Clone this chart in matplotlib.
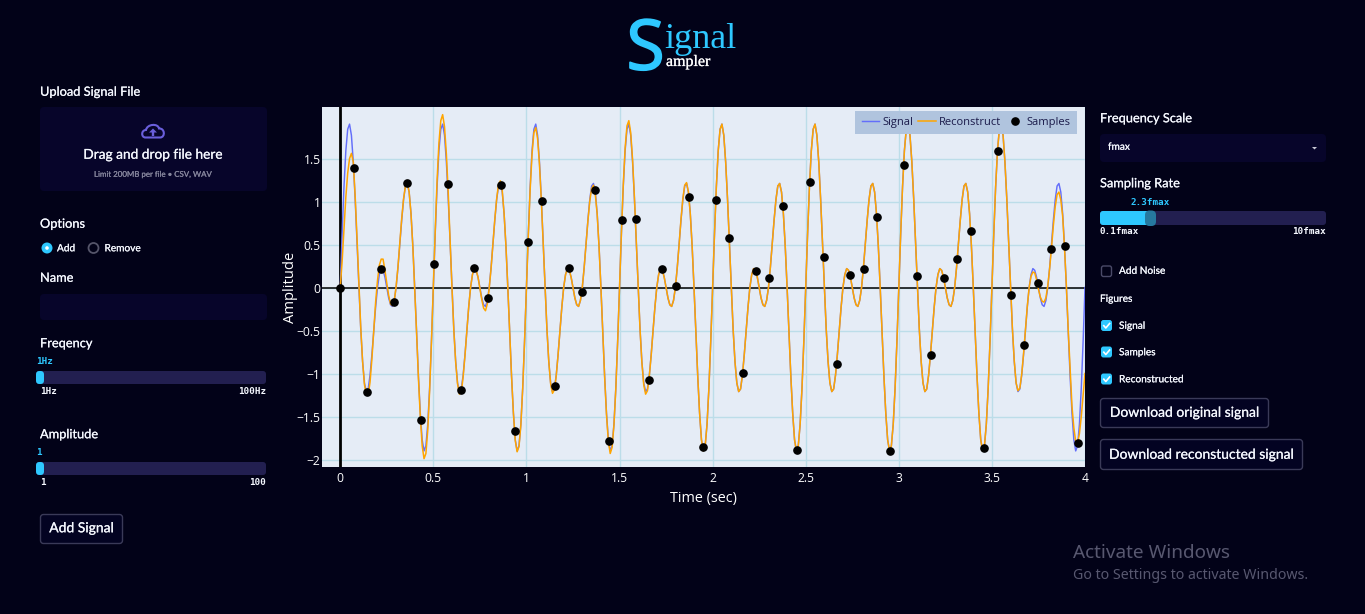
import numpy as np
import matplotlib
matplotlib.use("Agg")
import matplotlib.pyplot as plt
import matplotlib.patheffects as pe
from matplotlib.patches import FancyBboxPatch, Circle, Polygon, PathPatch
from matplotlib.path import Path
from matplotlib.lines import Line2D
from matplotlib.transforms import IdentityTransform

# ---------- data ----------
signal_values = [
 0,.62,1.17,1.59,1.84,1.90,1.77,1.46,1.03,.52,0,-.48,-.86,-1.11,-1.21,-1.18,-1.02,-.78,-.50,-.23,0,.15,.22,.20,.12,0,-.12,-.20,-.22,-.15,0,.23,.50,.78,1.02,1.18,1.21,1.11,.86,.48,0,-.52,-1.03,-1.46,-1.77,-1.90,-1.84,-1.59,-1.17,-.62,
 0,.62,1.17,1.59,1.84,1.90,1.77,1.46,1.03,.52,0,-.48,-.86,-1.11,-1.21,-1.18,-1.02,-.78,-.50,-.23,0,.15,.22,.20,.12,0,-.12,-.20,-.22,-.15,0,.23,.50,.78,1.02,1.18,1.21,1.11,.86,.48,0,-.52,-1.03,-1.46,-1.77,-1.90,-1.84,-1.59,-1.17,-.62,
 0,.62,1.17,1.59,1.84,1.90,1.77,1.46,1.03,.52,0,-.48,-.86,-1.11,-1.21,-1.18,-1.02,-.78,-.50,-.23,0,.15,.22,.20,.12,0,-.12,-.20,-.22,-.15,0,.23,.50,.78,1.02,1.18,1.21,1.11,.86,.48,0,-.52,-1.03,-1.46,-1.77,-1.90,-1.84,-1.59,-1.17,-.62,
 0,.62,1.17,1.59,1.84,1.90,1.77,1.46,1.03,.52,0,-.48,-.86,-1.11,-1.21,-1.18,-1.02,-.78,-.50,-.23,0,.15,.22,.20,.12,0,-.12,-.20,-.22,-.15,0,.23,.50,.78,1.02,1.18,1.21,1.11,.86,.48,0,-.52,-1.03,-1.46,-1.77,-1.90,-1.84,-1.59,-1.17,-.62,
 0,.62,1.17,1.59,1.84,1.90,1.77,1.46,1.03,.52,0,-.48,-.86,-1.11,-1.21,-1.18,-1.02,-.78,-.50,-.23,0,.15,.22,.20,.12,0,-.12,-.20,-.22,-.15,0,.23,.50,.78,1.02,1.18,1.21,1.11,.86,.48,0,-.52,-1.03,-1.46,-1.77,-1.90,-1.84,-1.59,-1.17,-.62,
 0,.62,1.17,1.59,1.84,1.90,1.77,1.46,1.03,.52,0,-.48,-.86,-1.11,-1.21,-1.18,-1.02,-.78,-.50,-.23,0,.15,.22,.20,.12,0,-.12,-.20,-.22,-.15,0,.23,.50,.78,1.02,1.18,1.21,1.11,.86,.48,0,-.52,-1.03,-1.46,-1.77,-1.90,-1.84,-1.59,-1.17,-.62,
 0,.62,1.17,1.59,1.84,1.90,1.77,1.46,1.03,.52,0,-.48,-.86,-1.11,-1.21,-1.18,-1.02,-.78,-.50,-.23,0,.15,.22,.20,.12,0,-.12,-.20,-.22,-.15,0,.23,.50,.78,1.02,1.18,1.21,1.11,.86,.48,0,-.52,-1.03,-1.46,-1.77,-1.90,-1.84,-1.59,-1.17,-.62,
 0,.62,1.17,1.59,1.84,1.90,1.77,1.46,1.03,.52,0,-.48,-.86,-1.11,-1.21,-1.18,-1.02,-.78,-.50,-.23,0,.15,.22,.20,.12,0,-.12,-.20,-.22,-.15,0,.23,.50,.78,1.02,1.18,1.21,1.11,.86,.48,0,-.52,-1.03,-1.46,-1.77,-1.90,-1.84,-1.59,-1.17,-.62,
 0]

reconstruct_values = [
 0,.30,.68,1.05,1.33,1.50,1.56,1.46,1.07,.58,.05,-.46,-.86,-1.13,-1.24,-1.25,-1.10,-.83,-.50,-.17,.08,.26,.33,.33,.20,.05,-.09,-.19,-.21,-.16,.01,.24,.52,.80,1.03,1.18,1.22,1.11,.86,.47,-.02,-.53,-1.06,-1.50,-1.84,-1.99,-1.93,-1.66,-1.20,-.62,
 .03,.65,1.24,1.68,1.94,2.01,1.87,1.55,1.10,.55,0,-.50,-.87,-1.12,-1.24,-1.22,-1.04,-.79,-.50,-.22,0,.15,.22,.20,.12,-.01,-.14,-.24,-.27,-.19,-.01,.22,.50,.79,1.03,1.20,1.24,1.13,.86,.48,0,-.52,-1.03,-1.46,-1.78,-1.91,-1.85,-1.60,-1.17,-.62,
 0,.60,1.14,1.55,1.80,1.86,1.73,1.43,1.01,.51,0,-.48,-.86,-1.12,-1.23,-1.19,-1.03,-.78,-.50,-.23,0,.15,.22,.20,.12,0,-.12,-.20,-.22,-.15,0,.23,.50,.77,1.00,1.15,1.19,1.08,.85,.47,0,-.52,-1.04,-1.48,-1.79,-1.93,-1.86,-1.60,-1.18,-.63,
 0,.63,1.19,1.62,1.88,1.94,1.80,1.49,1.05,.53,0,-.48,-.87,-1.13,-1.24,-1.20,-1.03,-.79,-.50,-.23,0,.15,.22,.20,.12,0,-.12,-.20,-.22,-.15,0,.23,.50,.79,1.03,1.19,1.22,1.11,.86,.48,0,-.52,-1.03,-1.46,-1.77,-1.90,-1.84,-1.59,-1.17,-.62,
 0,.62,1.17,1.59,1.84,1.90,1.77,1.46,1.03,.52,0,-.48,-.86,-1.11,-1.21,-1.18,-1.02,-.78,-.50,-.23,0,.15,.22,.20,.12,0,-.12,-.20,-.22,-.15,0,.23,.50,.78,1.02,1.18,1.21,1.11,.86,.48,0,-.52,-1.03,-1.46,-1.77,-1.90,-1.84,-1.59,-1.17,-.62,
 0,.62,1.17,1.59,1.84,1.90,1.77,1.46,1.03,.52,0,-.48,-.86,-1.11,-1.21,-1.18,-1.02,-.78,-.50,-.23,0,.15,.22,.20,.12,0,-.12,-.20,-.22,-.15,0,.23,.50,.78,1.02,1.18,1.21,1.11,.86,.48,0,-.52,-1.03,-1.46,-1.77,-1.90,-1.84,-1.59,-1.17,-.62,
 0,.62,1.17,1.59,1.84,1.90,1.77,1.46,1.03,.52,0,-.48,-.86,-1.11,-1.21,-1.18,-1.02,-.78,-.50,-.23,0,.15,.22,.20,.12,0,-.12,-.20,-.22,-.15,0,.23,.50,.78,1.02,1.18,1.21,1.11,.86,.48,0,-.52,-1.03,-1.46,-1.77,-1.90,-1.84,-1.59,-1.17,-.62,
 0,.62,1.17,1.59,1.84,1.90,1.77,1.46,1.03,.52,0,-.47,-.85,-1.11,-1.20,-1.17,-1.01,-.77,-.49,-.22,0,.13,.18,.17,.09,-.02,-.11,-.16,-.17,-.12,.02,.22,.46,.72,.94,1.08,1.11,1.02,.83,.46,.02,-.50,-.95,-1.38,-1.63,-1.79,-1.81,-1.70,-1.50,-1.25,
 -1.0]

sample_times = [0,.073,.146,.218,.289,.361,.433,.506,.578,.650,.721,.793,.865,.938,1.010,1.081,1.153,1.227,1.298,1.370,1.442,1.515,1.587,1.658,1.730,1.802,1.874,1.947,2.017,2.090,2.162,2.234,2.305,2.379,2.451,2.524,2.596,2.668,2.739,2.811,2.883,2.954,3.028,3.099,3.171,3.243,3.315,3.386,3.460,3.531,3.603,3.675,3.746,3.818,3.891,3.963]
sample_values = [0,1.39,-1.21,.21,-.17,1.215,-1.54,.273,1.207,-1.188,.227,-.122,1.188,-1.672,.533,1.01,-1.142,.227,-.056,1.134,-1.781,.781,.797,-1.076,.211,.021,1.052,-1.855,1.017,.576,-.994,.188,.114,.948,-1.893,1.23,.355,-.893,.149,.215,.816,-1.901,1.42,.13,-.785,.107,.328,.657,-1.87,1.587,-.087,-.672,.056,.448,.483,-1.805]

x_ticks = [0, .5, 1, 1.5, 2, 2.5, 3, 3.5, 4]
x_tick_labels = ["0", "0.5", "1", "1.5", "2", "2.5", "3", "3.5", "4"]
y_ticks = [-2, -1.5, -1, -.5, 0, .5, 1, 1.5]
y_tick_labels = ["\u22122", "\u22121.5", "\u22121", "\u22120.5", "0", "0.5", "1", "1.5"]

# ---------- colours ----------
BG = "#020218"
PANEL = "#07052a"
TRACK = "#221f50"
CYAN = "#2ec8ff"
WHITE = "#f5f8ff"
SANS = ["Lato", "DejaVu Sans"]
MONO = "DejaVu Sans Mono"
W, H = 1365, 614
HEAD = 12.8
BODY = 10.1
BTN = 13.9
TICK = 9.3

fig = plt.figure(figsize=(W / 100, H / 100), dpi=100, facecolor=BG)

# ---------- interface layer in pixel coordinates ----------
ui = fig.add_axes([0, 0, 1, 1], zorder=0)
ui.set_xlim(0, W); ui.set_ylim(H, 0); ui.axis("off")


def rect(x0, y0, x1, y1, fc, ec="none", lw=0, r=3):
    ui.add_patch(FancyBboxPatch((x0 + r, y0 + r), x1 - x0 - 2 * r, y1 - y0 - 2 * r,
                                boxstyle=f"round,pad={r},rounding_size={r}",
                                fc=fc, ec=ec, lw=lw))


def label(x, y, s, px=13, color=WHITE, ha="left", family=None, **kw):
    t = ui.text(x, y + .8, s, fontsize=px * .72, color=color, ha=ha, va="center",
                family=family or SANS, **kw)
    if family is None:
        t.set_path_effects([pe.withStroke(linewidth=.12, foreground=color)])
    return t


# title
s_mark = ui.text(626.5, 69.5, "S", fontsize=50, color=CYAN, family="Open Sans", va="baseline")
s_mark.set_path_effects([pe.withStroke(linewidth=1.3, foreground=CYAN)])
ui.text(664, 47.5, "ignal", fontsize=26, color=CYAN, family="Liberation Serif", va="baseline")
ampler = ui.text(666, 66, "ampler", fontsize=11.5, color="white", family="Liberation Serif", va="baseline")
ampler.set_path_effects([pe.withStroke(linewidth=.15, foreground="white")])

# left column
label(40, 91, "Upload Signal File", HEAD)
rect(40, 107, 267, 191, PANEL, r=4)
cloud = Path([(145.5, 137.5), (141, 137.5), (141, 130), (146, 130), (147, 124), (158, 123), (159, 128.5),
              (165, 128), (165.5, 137.5), (160, 137.5), (145.5, 137.5)],
             [Path.MOVETO, Path.CURVE4, Path.CURVE4, Path.CURVE4, Path.CURVE4, Path.CURVE4, Path.CURVE4,
              Path.CURVE4, Path.CURVE4, Path.CURVE4, Path.CLOSEPOLY])
ui.add_patch(PathPatch(cloud, fc="none", ec="#6a5fdc", lw=1.5))
ui.add_patch(Polygon([(153, 128.5), (149, 132.5), (151.8, 132.5), (151.8, 136), (154.2, 136),
                      (154.2, 132.5), (157, 132.5)], fc="#6a5fdc", ec="none"))
label(153.5, 154, "Drag and drop file here", 13.7, ha="center")
label(153, 173.5, "Limit 200MB per file \u2022 CSV, WAV", 7.9, color="#85859c", ha="center")
label(40, 223, "Options", HEAD)
ui.add_patch(Circle((47, 248), 5.5, fc=CYAN, ec="none"))
ui.add_patch(Circle((47, 248), 1.8, fc="white", ec="none"))
label(57, 248, "Add", BODY)
ui.add_patch(Circle((93.5, 248), 5, fc="none", ec="#55556a", lw=1.3))
label(104.5, 248, "Remove", BODY)
label(40, 277, "Name", HEAD)
rect(40, 294, 267, 320, PANEL, r=4)

label(40, 342.5, "Freqency", HEAD)
label(36, 361, "1Hz", TICK, color=CYAN, family=MONO, weight="bold")
rect(36, 371, 266, 384, TRACK, r=3)
rect(36, 371, 44, 384, CYAN, r=3.5)
label(40, 391, "1Hz", TICK, family=MONO, weight="bold")
label(266, 391, "100Hz", TICK, ha="right", family=MONO, weight="bold")

label(40, 433.5, "Amplitude", HEAD)
label(36, 452, "1", TICK, color=CYAN, family=MONO, weight="bold")
rect(36, 462, 266, 475, TRACK, r=3)
rect(36, 462, 44, 475, CYAN, r=3.5)
label(40, 482, "1", TICK, family=MONO, weight="bold")
label(266, 482, "100", TICK, ha="right", family=MONO, weight="bold")

rect(40.5, 514.5, 122.5, 543.5, "#030322", ec="#3a3a58", lw=1, r=3)
label(81.5, 527.5, "Add Signal", BTN, ha="center")

# right column
label(1100, 117.5, "Frequency Scale", HEAD)
rect(1100, 134, 1326, 162, PANEL, r=4)
label(1108, 146.5, "fmax", BODY)
ui.add_patch(Polygon([(1312, 147), (1317, 147), (1314.5, 149.5)], fc="#c8c8d4", ec="none"))
label(1100, 182.5, "Sampling Rate", HEAD)
label(1150, 202, "2.3fmax", TICK, color=CYAN, ha="center", family=MONO, weight="bold")
rect(1100, 211, 1326, 225, TRACK, r=3)
rect(1100, 211, 1153, 225, CYAN, r=3)
rect(1145, 210.5, 1156, 226, "#26799f", r=4.5)
label(1100, 231, "0.1fmax", TICK, family=MONO, weight="bold")
label(1326, 231, "10fmax", TICK, ha="right", family=MONO, weight="bold")

rect(1101.5, 266, 1111.5, 276.5, "none", ec="#4a4a68", lw=1, r=2)
label(1119, 270.5, "Add Noise", BODY)
label(1100, 298.5, "Figures", BODY)
for yc, name in zip((325.5, 352, 379), ("Signal", "Samples", "Reconstructed")):
    rect(1101, yc - 5.5, 1112, yc + 5.5, CYAN, r=2.5)
    ui.add_line(Line2D([1103.8, 1105.8, 1109.6], [yc + .2, yc + 2.5, yc - 2], color="white", lw=1.2))
    label(1119, yc, name, BODY)

rect(1100.5, 398.5, 1268.5, 427.5, "#030322", ec="#3a3a58", lw=1, r=3)
label(1184.5, 412, "Download original signal", BTN, ha="center")
rect(1100.5, 439.5, 1302.5, 469.5, "#030322", ec="#3a3a58", lw=1, r=3)
label(1201.5, 454, "Download reconstucted signal", BTN, ha="center")

# watermark
label(1073, 552, "Activate Windows", 19, color="#585870", family=["Noto Sans"])
label(1073, 574.5, "Go to Settings to activate Windows.", 14.2, color="#585870", family=["Noto Sans"])

# ---------- chart ----------
left, right, top, bottom = 322, 1085, 107, 467
ax = fig.add_axes([left / W, 1 - bottom / H, (right - left) / W, (bottom - top) / H], zorder=2)
ax.set_facecolor("#e5ecf6")
for sp in ax.spines.values():
    sp.set_visible(False)
ax.set_xlim(-.098, 4)
ax.set_ylim(-2.087, 2.099)
ax.set_xticks(x_ticks, x_tick_labels)
ax.set_yticks(y_ticks, y_tick_labels)
ax.grid(True, color="#bcdde9", lw=1)
ax.set_axisbelow(True)
ax.tick_params(length=0, colors="white", labelsize=8.7, pad=1, labelfontfamily="Open Sans")
ax.tick_params(axis="x", pad=3.8)
ax.axhline(0, color="black", lw=1.1, zorder=1.5)
ax.axvline(0, color="black", lw=2, zorder=1.5)

times = np.linspace(0, 4, len(signal_values))
ax.plot(times, signal_values, color="#636efa", lw=1.05, label="Signal", zorder=3)
ax.plot(times, reconstruct_values, color="#ffa500", lw=1.1, label="Reconstruct", zorder=4)
ax.plot(sample_times, sample_values, ls="none", marker="o", ms=5.2, color="black", label="Samples",
        zorder=5, clip_on=False)

ax.set_xlabel("Time (sec)", color="white", fontsize=10.4, family="Open Sans", labelpad=4)
ax.set_ylabel("Amplitude", color="white", fontsize=10.6, family="Open Sans", labelpad=-1)

leg = ax.legend(loc="upper right", ncol=3, frameon=True,
                bbox_to_anchor=(1077, H - 111), bbox_transform=IdentityTransform(),
                fancybox=False, facecolor="#b0c4de", edgecolor="none", framealpha=1,
                prop={"family": "Open Sans", "size": 8}, labelcolor="#1a1a4a",
                handlelength=1.6, handletextpad=.3, columnspacing=.4, borderpad=.55,
                borderaxespad=0)
leg.get_frame().set_linewidth(0)
leg.set_zorder(6)

fig.savefig("out.png", dpi=100, facecolor=BG)
